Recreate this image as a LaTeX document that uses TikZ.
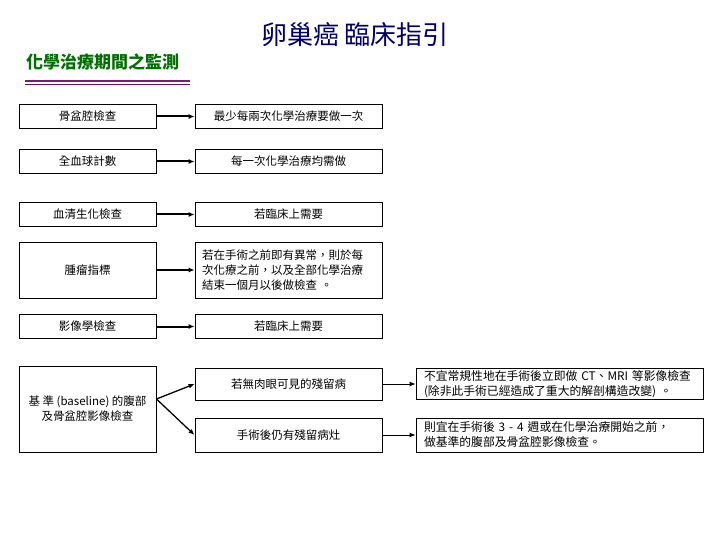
\documentclass[tikz,border=0pt]{standalone}
\usepackage{fontspec}
\setmainfont{Noto Sans CJK TC}
\definecolor{titleblue}{HTML}{000066}
\definecolor{subgreen}{HTML}{007000}
\definecolor{rulepurple}{HTML}{7A1A7A}
\usetikzlibrary{arrows.meta, positioning}
\tikzset{
	plainbox/.style={
			draw=black,
			line width=0.9pt,
			fill=white,
			inner sep=0pt,
			font=\fontsize{11.5}{15}\selectfont
		},
	leftbox/.style={
			plainbox,
			minimum width=137pt,
			minimum height=24pt
		},
	midbox/.style={
			plainbox,
			minimum width=187pt,
			minimum height=24pt
		},
	notebox/.style={
			plainbox,
			inner xsep=7pt,
			text width=173pt,
			align=left,
			minimum height=56pt
		},
	farbox/.style={
			plainbox,
			inner xsep=8pt,
			text width=271pt,
			align=left,
			font=\fontsize{11.8}{15}\selectfont
		},
	mainarrow/.style={
			line width=2pt,
			-{Latex[length=6pt,width=5pt]}
		},
	sidearrow/.style={
			line width=0.9pt,
			-{Latex[length=6pt,width=5pt]}
		}
}

\begin{document}
\begin{tikzpicture}[x=1pt, y=-1pt]
\useasboundingbox[fill=white] (0,0) rectangle (720,540);

\node[text=titleblue, font=\fontsize{26}{28}\selectfont] (title) at (355,35) {卵巢癌 臨床指引};
\node[text=subgreen, font=\fontsize{17}{19}\selectfont\bfseries, anchor=west, inner sep=0pt] (subtitle) at (26,62) {化學治療期間之監測};
\draw[rulepurple, line width=1.8pt] (25,81) -- (190,81);
\draw[rulepurple!80!black, line width=1.8pt] (25,84.5) -- (190,84.5);

% left column
\node[leftbox] (pelvis) at (87.5,116.5) {骨盆腔檢查};
\node[leftbox] (blood) at (87.5,161.5) {全血球計數};
\node[leftbox] (serum) at (87.5,214.5) {血清生化檢查};
\node[leftbox, minimum height=56pt] (marker) at (87.5,270) {腫瘤指標};
\node[leftbox] (imaging) at (87.5,326.5) {影像學檢查};
\node[leftbox, minimum height=86pt, align=center] (base) at (87.5,409) {基 準 (baseline) 的腹部\\及骨盆腔影像檢查};

% middle column
\node[midbox] (every2) at (288.5,116.5) {最少每兩次化學治療要做一次};
\node[midbox] (every1) at (288.5,161.5) {每一次化學治療均需做};
\node[midbox] (need1) at (288.5,214.5) {若臨床上需要};
\node[notebox] (abnormal) at (288.5,270) {若在手術之前即有異常，則於每\\次化療之前，以及全部化學治療\\結束一個月以後做檢查 。};
\node[midbox] (need2) at (288.5,326.5) {若臨床上需要};
\node[midbox, minimum height=32pt] (nores) at (288.5,384) {若無肉眼可見的殘留病};
\node[midbox, minimum height=34pt] (res) at (288.5,435) {手術後仍有殘留病灶};

% right column
\node[farbox, minimum height=31pt] (noscan) at (559.5,384) {不宜常規性地在手術後立即做 CT、MRI 等影像檢查\\(除非此手術已經造成了重大的解剖構造改變) 。};
\node[farbox, minimum height=34pt] (scan) at (559.5,435) {則宜在手術後 3 - 4 週或在化學治療開始之前，\\做基準的腹部及骨盆腔影像檢查。};

\draw[mainarrow] (pelvis) -- (every2);
\draw[mainarrow] (blood) -- (every1);
\draw[mainarrow] (serum) -- (need1);
\draw[mainarrow] (marker) -- (abnormal);
\draw[mainarrow] (imaging) -- (need2);

\draw[line width=1.3pt, -{Latex[length=6pt,width=5pt]}] ([yshift=10pt]base.east) -- (nores.west);
\draw[line width=1.3pt, -{Latex[length=6pt,width=5pt]}] ([yshift=10pt]base.east) -- (res.west);

\draw[sidearrow] (nores) -- (noscan);
\draw[sidearrow] (res) -- (scan);
\end{tikzpicture}
\end{document}
